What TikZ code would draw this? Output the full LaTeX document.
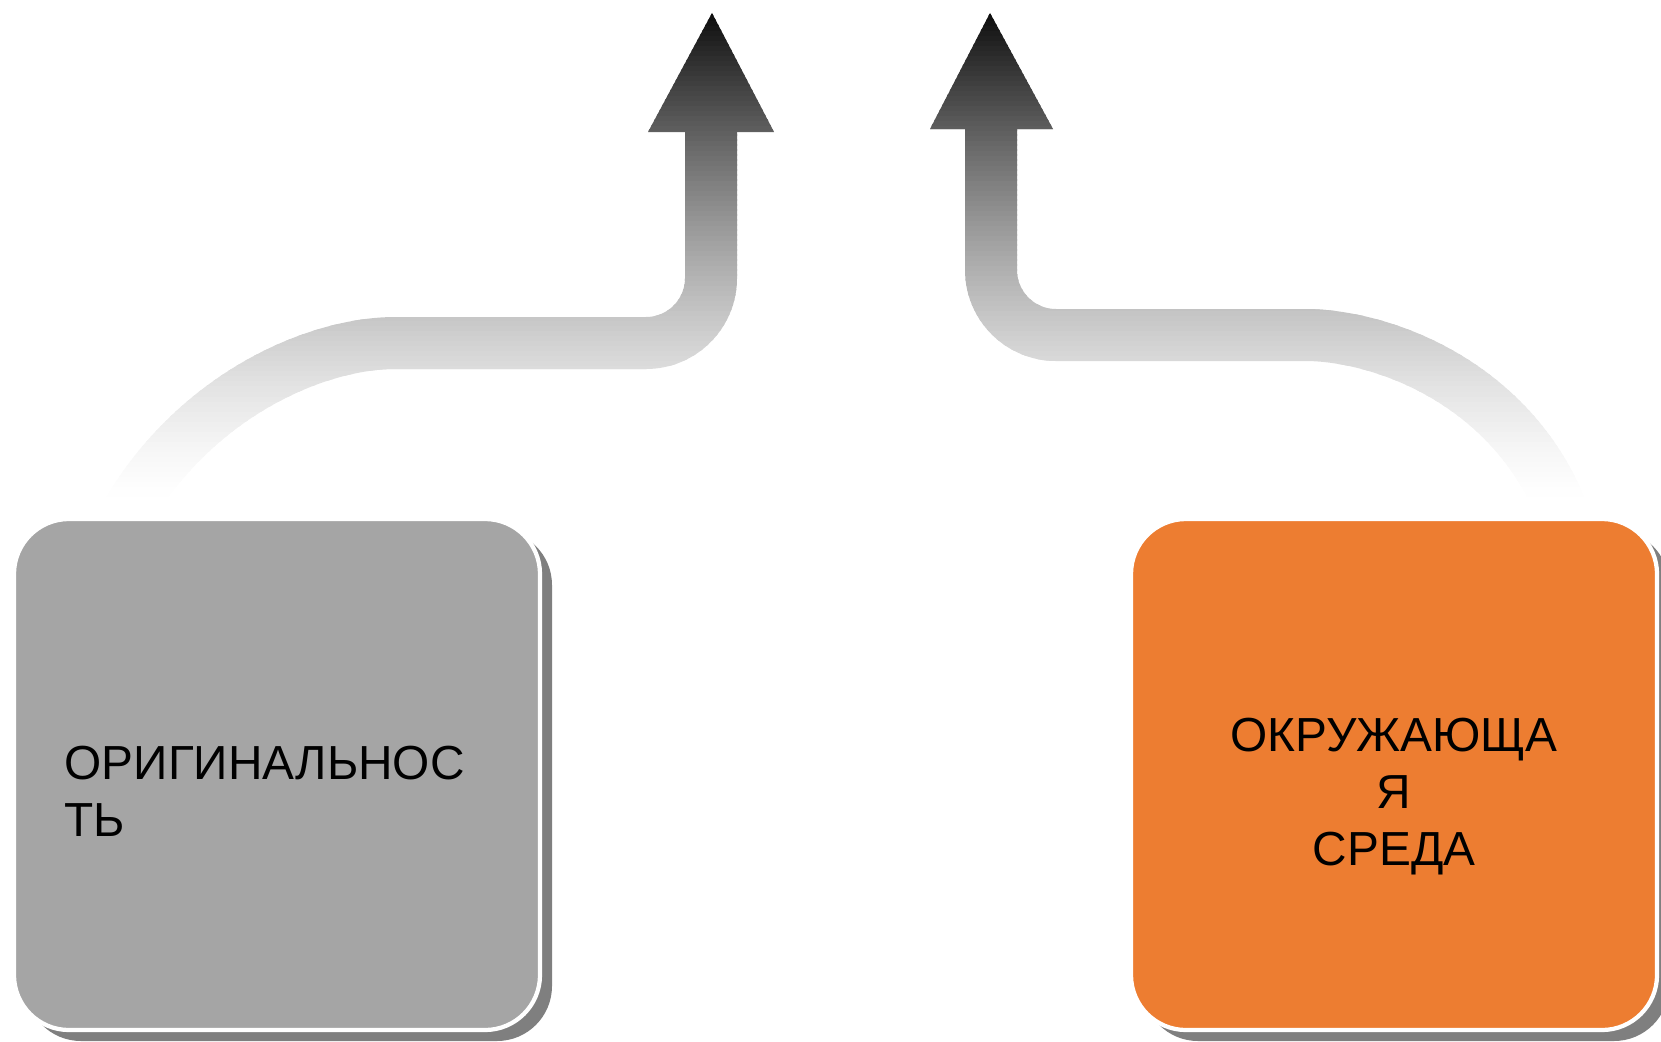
\documentclass[tikz,border=0pt]{standalone}
\usepackage{fontspec}
\setmainfont{Liberation Sans}
\usetikzlibrary{
	calc,
	positioning,
	shadows,
}
\definecolor{cardgray}{HTML}{A5A5A5}
\definecolor{cardorange}{HTML}{ED7D31}
\definecolor{cardshadow}{HTML}{7F7F7F}
\tikzset{card/.style={
	draw=white,
	line width=1.2pt,
	rounded corners=5.5mm,
	minimum width=52.6mm,
	minimum height=51.1mm,
	inner sep=0mm,
	drop shadow={shadow xshift=1.2mm, shadow yshift=-1.1mm, fill=cardshadow, draw=none, opacity=1},
}}
\tikzset{card text/.style={
	inner sep=0mm,
	font=\fontsize{13.6}{16.2}\selectfont,
}}
\tikzset{riser/.style={
	line width=5.2mm,
	rounded corners=6.5mm,
}}

\begin{document}
\begin{tikzpicture}
\useasboundingbox (0,0) rectangle (16.61,10.41);

\coordinate (lstart) at (1.28,5.30);
\coordinate (lband) at (4.60,6.98);
\coordinate (lbend) at (7.11,6.98);
\coordinate (lneck) at (7.11,9.12);
\coordinate (ltip) at (7.12,10.28);

\coordinate (rstart) at (15.62,5.30);
\coordinate (rband) at (12.40,7.06);
\coordinate (rbend) at (9.91,7.06);
\coordinate (rneck) at (9.91,9.15);
\coordinate (rtip) at (9.90,10.28);

% both arrows in thin slices, dark at the top, white near the boxes
\foreach \i in {0,...,100}{
	\pgfmathsetmacro\ylow{5.30+0.05*\i}
	\pgfmathsetmacro\shadeval{95*pow(max(\ylow+0.025-5.38,0.001)/4.9,1.5)}
	\colorlet{slice}{black!\shadeval}
	\begin{scope}
	\clip (0,\ylow) rectangle (16.61,\ylow+0.06);
	\draw[riser, slice]
	(lstart) .. controls (2.00,6.50) and (3.20,6.98) .. (lband) -- (lbend) -- (lneck);
	\draw[riser, slice]
	(rstart) .. controls (15.10,6.60) and (13.80,7.06) .. (rband) -- (rbend) -- (rneck);
	\fill[slice] (6.48,9.09) -- (ltip) -- (7.74,9.09) -- cycle;
	\fill[slice] (9.30,9.12) -- (rtip) -- (10.53,9.12) -- cycle;
	\end{scope}
}

\node[card, fill=cardgray] (orig) at (2.77,2.665) {};
\node[card, fill=cardorange] (env) at (13.94,2.665) {};

\node[card text, anchor=west, align=left] (origtext)
	at ([xshift=5.2mm, yshift=-1.7mm]orig.west) {ОРИГИНАЛЬНОС\\ТЬ};
\node[card text, align=center] (envtext)
	at ([yshift=-2.2mm]env.center) {ОКРУЖАЮЩА\\Я\\СРЕДА};

\end{tikzpicture}
\end{document}
